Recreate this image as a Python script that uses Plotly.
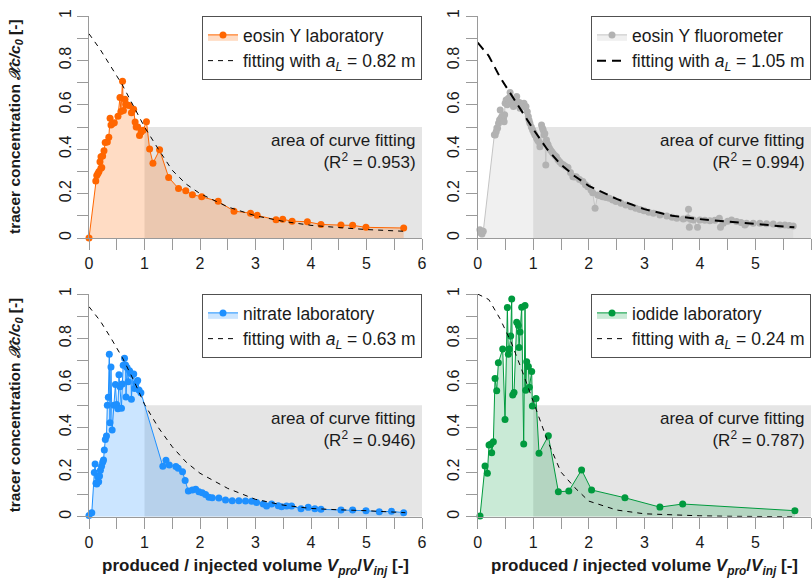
import plotly.graph_objects as go

# ---------------- data ----------------
eosin_lab_x = [0.000, 0.122, 0.140, 0.160, 0.180, 0.198, 0.214, 0.230, 0.216, 0.246, 0.270, 0.292,
               0.330, 0.357, 0.380, 0.396, 0.426, 0.456, 0.522, 0.558, 0.575, 0.604, 0.620, 0.648,
               0.662, 0.685, 0.722, 0.765, 0.804, 0.831, 0.850, 0.878, 0.910, 0.940, 0.975, 1.035,
               1.092, 1.152, 1.272, 1.435, 1.613, 1.744, 1.863, 2.030, 2.327, 2.613, 2.910, 3.030,
               3.370, 3.490, 3.660, 3.935, 4.180, 4.540, 4.750, 4.990, 5.670]
eosin_lab_y = [0.000, 0.257, 0.282, 0.290, 0.300, 0.344, 0.314, 0.318, 0.366, 0.369, 0.393, 0.430,
               0.432, 0.454, 0.539, 0.509, 0.516, 0.519, 0.548, 0.633, 0.570, 0.706, 0.574, 0.625,
               0.603, 0.600, 0.597, 0.564, 0.580, 0.522, 0.500, 0.500, 0.462, 0.478, 0.485, 0.524,
               0.401, 0.337, 0.397, 0.273, 0.223, 0.213, 0.195, 0.186, 0.165, 0.121, 0.112, 0.102,
               0.082, 0.084, 0.076, 0.073, 0.061, 0.058, 0.057, 0.048, 0.045]

eosin_fluo_x = [0.040, 0.060, 0.077, 0.100, 0.300, 0.315, 0.333, 0.345, 0.357, 0.375, 0.393, 0.405,
                0.417, 0.435, 0.464, 0.476, 0.485, 0.494, 0.512, 0.530, 0.554, 0.570, 0.583, 0.600,
                0.613, 0.643, 0.660, 0.673, 0.702, 0.715, 0.732, 0.750, 0.762, 0.792, 0.810, 0.833,
                0.850, 0.869, 0.893, 0.911, 0.925, 0.940, 0.965, 0.988, 1.010, 1.030, 1.060, 1.080,
                1.100, 1.120, 1.135, 1.149, 1.165, 1.179, 1.195, 1.208, 1.226, 1.238, 1.255, 1.268,
                1.290, 1.310, 1.335, 1.357, 1.390, 1.417, 1.445, 1.476, 1.510, 1.548, 1.585, 1.625,
                1.670, 1.714, 1.745, 1.774, 1.833, 1.893, 1.940, 1.982, 2.040, 2.070, 2.113, 2.160,
                2.205, 2.250, 2.310, 2.370, 2.430, 2.490, 2.580, 2.667, 2.760, 2.845, 2.920, 2.994,
                3.080, 3.165, 3.280, 3.405, 3.500, 3.585, 3.700, 3.780, 3.795, 3.810, 3.840, 3.885,
                3.957, 4.000, 4.090, 4.180, 4.270, 4.350, 4.370, 4.420, 4.500, 4.570, 4.660, 4.740,
                4.810, 4.840, 4.960, 5.080, 5.200, 5.320, 5.440, 5.530, 5.610, 5.680]
eosin_fluo_y = [0.037, 0.022, 0.018, 0.030, 0.465, 0.464, 0.479, 0.495, 0.494, 0.517, 0.532, 0.577,
                0.539, 0.547, 0.539, 0.524, 0.555, 0.607, 0.622, 0.600, 0.629, 0.610, 0.655, 0.625,
                0.614, 0.592, 0.605, 0.619, 0.637, 0.610, 0.599, 0.610, 0.584, 0.592, 0.600, 0.607,
                0.590, 0.592, 0.569, 0.547, 0.530, 0.517, 0.500, 0.486, 0.475, 0.464, 0.449, 0.440,
                0.434, 0.411, 0.425, 0.509, 0.495, 0.486, 0.465, 0.471, 0.329, 0.441, 0.425, 0.419,
                0.405, 0.396, 0.388, 0.381, 0.372, 0.366, 0.352, 0.344, 0.335, 0.329, 0.322, 0.318,
                0.295, 0.276, 0.275, 0.276, 0.264, 0.254, 0.240, 0.231, 0.216, 0.204, 0.134, 0.194,
                0.190, 0.186, 0.182, 0.179, 0.171, 0.164, 0.156, 0.149, 0.141, 0.134, 0.128, 0.123,
                0.116, 0.111, 0.104, 0.099, 0.094, 0.089, 0.086, 0.090, 0.130, 0.048, 0.085, 0.081,
                0.048, 0.081, 0.080, 0.078, 0.080, 0.089, 0.048, 0.066, 0.076, 0.081, 0.074, 0.070,
                0.059, 0.066, 0.066, 0.066, 0.064, 0.063, 0.059, 0.058, 0.056, 0.054]

nitrate_x = [0.000, 0.050, 0.096, 0.110, 0.126, 0.140, 0.156, 0.174, 0.190, 0.206, 0.226, 0.246,
             0.262, 0.276, 0.294, 0.315, 0.330, 0.348, 0.366, 0.378, 0.396, 0.417, 0.450, 0.476,
             0.498, 0.520, 0.540, 0.558, 0.585, 0.600, 0.616, 0.640, 0.658, 0.667, 0.685, 0.706,
             0.730, 0.757, 0.764, 0.787, 0.806, 0.820, 0.847, 0.877, 0.900, 0.935, 1.330, 1.387,
             1.446, 1.565, 1.607, 1.685, 1.732, 1.790, 1.863, 1.923, 1.980, 2.040, 2.100, 2.160,
             2.220, 2.340, 2.460, 2.580, 2.700, 2.820, 2.930, 3.020, 3.140, 3.200, 3.290, 3.410,
             3.470, 3.560, 3.650, 3.820, 3.950, 4.070, 4.180, 4.540, 4.750, 4.990, 5.230, 5.450,
             5.670]
nitrate_y = [0.005, 0.018, 0.198, 0.237, 0.150, 0.147, 0.180, 0.157, 0.183, 0.209, 0.227, 0.245,
             0.255, 0.300, 0.347, 0.362, 0.501, 0.536, 0.729, 0.422, 0.672, 0.389, 0.501, 0.594,
             0.504, 0.485, 0.637, 0.584, 0.487, 0.596, 0.680, 0.711, 0.681, 0.537, 0.670, 0.606,
             0.655, 0.643, 0.527, 0.638, 0.641, 0.576, 0.599, 0.612, 0.569, 0.557, 0.227, 0.254,
             0.232, 0.225, 0.217, 0.202, 0.162, 0.115, 0.120, 0.123, 0.112, 0.108, 0.100, 0.087,
             0.085, 0.084, 0.075, 0.072, 0.072, 0.070, 0.069, 0.064, 0.057, 0.048, 0.057, 0.049,
             0.045, 0.048, 0.048, 0.036, 0.042, 0.036, 0.033, 0.030, 0.030, 0.027, 0.022, 0.024,
             0.018]

iodide_x = [0.042, 0.132, 0.174, 0.204, 0.240, 0.252, 0.282, 0.312, 0.342, 0.372, 0.450, 0.492,
            0.534, 0.552, 0.570, 0.594, 0.612, 0.630, 0.654, 0.702, 0.732, 0.744, 0.762, 0.792,
            0.828, 0.852, 0.864, 0.882, 0.912, 0.930, 0.972, 0.984, 1.050, 1.104, 1.272, 1.452,
            1.640, 1.870, 2.050, 2.650, 3.280, 3.690, 5.710]
iodide_y = [0.003, 0.228, 0.195, 0.322, 0.326, 0.287, 0.337, 0.621, 0.566, 0.691, 0.753, 0.437,
            0.939, 0.729, 0.753, 0.811, 0.977, 0.546, 0.558, 0.873, 0.858, 0.760, 0.829, 0.940,
            0.326, 0.948, 0.568, 0.696, 0.674, 0.581, 0.652, 0.497, 0.531, 0.285, 0.363, 0.112,
            0.115, 0.210, 0.120, 0.085, 0.043, 0.057, 0.027]

fit_x = [0.0, 0.2, 0.4, 0.6, 0.8, 1.0, 1.25, 1.5, 1.75, 2.0, 2.5, 3.0, 3.5, 4.0, 4.5, 5.0, 5.7]
fit_eosin_lab = [0.92, 0.85, 0.77, 0.69, 0.595, 0.50, 0.40, 0.305, 0.243, 0.20, 0.14, 0.10,
                 0.075, 0.057, 0.047, 0.038, 0.030]
fit_eosin_fluo = [0.88, 0.82, 0.725, 0.645, 0.565, 0.49, 0.40, 0.33, 0.278, 0.235, 0.176, 0.13,
                  0.10, 0.085, 0.074, 0.064, 0.048]
fit_nitrate = [0.943, 0.88, 0.80, 0.715, 0.615, 0.505, 0.40, 0.314, 0.245, 0.195, 0.127, 0.078,
               0.052, 0.037, 0.031, 0.027, 0.018]
fit_iodide = [1.0, 0.975, 0.89, 0.785, 0.655, 0.52, 0.345, 0.20, 0.13, 0.07, 0.03, 0.013,
              0.007, 0.004, 0.002, 0.001, 0.0]

series_names = ["eosin Y laboratory", "eosin Y fluorometer", "nitrate laboratory", "iodide laboratory"]
aL_values = ["0.82", "1.05", "0.63", "0.24"]
r2_values = ["0.953", "0.994", "0.946", "0.787"]
fit_area_x = [1.0, 6.0]
fit_area_y = [0.0, 0.5]
x_range = [0, 6]
y_range = [0, 1]

# ---------------- styling ----------------
W, H = 812, 581
SANS = "Liberation Sans, Arial, sans-serif"
AXIS_GRAY = "#9a9a9a"
TEXT = "#1a1a1a"

panels = [
    dict(x=eosin_lab_x, y=eosin_lab_y, fit=fit_eosin_lab, color="#ff6600",
         fill="rgba(255,102,0,0.23)", mcolor="#ff6600", lw=1, fitw=1, dash="5px,5px"),
    dict(x=eosin_fluo_x, y=eosin_fluo_y, fit=fit_eosin_fluo, color="#c4c4c4",
         fill="rgba(190,190,190,0.23)", mcolor="#b2b2b2", lw=1, fitw=2, dash="9px,6px"),
    dict(x=nitrate_x, y=nitrate_y, fit=fit_nitrate, color="#1e90ff",
         fill="rgba(30,144,255,0.23)", mcolor="#1e90ff", lw=1, fitw=1, dash="5px,5px"),
    dict(x=iodide_x, y=iodide_y, fit=fit_iodide, color="#009a3e",
         fill="rgba(0,154,62,0.21)", mcolor="#009a3e", lw=1, fitw=1, dash="5px,5px"),
]

# pixel geometry -> paper domains
xl = [89 / W, 422 / W]
xr = [477.7 / W, 811 / W]
yt = [1 - 238 / H, 1 - 16 / H]
yb = [1 - 516.7 / H, 1 - 294 / H]
domains = [(xl, yt), (xr, yt), (xl, yb), (xr, yb)]

fig = go.Figure()
layout = dict(width=W, height=H, margin=dict(l=0, r=0, t=0, b=0),
              paper_bgcolor="white", plot_bgcolor="white", showlegend=True,
              shapes=[], annotations=[])

for i, p in enumerate(panels):
    k = "" if i == 0 else str(i + 1)
    xa, ya = "x" + k, "y" + k
    lg = "legend" + k
    fig.add_trace(go.Scatter(
        x=p["x"], y=p["y"], mode="lines+markers", name=series_names[i],
        line=dict(color=p["color"], width=p["lw"]),
        marker=dict(color=p["mcolor"], size=7),
        fill="tozeroy", fillcolor=p["fill"], cliponaxis=False,
        xaxis=xa, yaxis=ya, legend=lg))
    fig.add_trace(go.Scatter(
        x=fit_x, y=p["fit"], mode="lines",
        name="fitting with <i>a</i><sub><i>L</i></sub> = " + aL_values[i] + " m",
        line=dict(color="black", width=p["fitw"], dash=p["dash"]),
        xaxis=xa, yaxis=ya, legend=lg))

    dx, dy = domains[i]
    axis_common = dict(showgrid=False, zeroline=False, showline=True, linecolor=AXIS_GRAY,
                       linewidth=1, ticks="outside", ticklen=11, tickcolor=AXIS_GRAY,
                       tickwidth=1, tickfont=dict(family=SANS, size=16, color=TEXT),
                       automargin=False, fixedrange=True)
    layout["xaxis" + k] = dict(domain=dx, anchor=ya, range=x_range, tick0=0, dtick=1,
                               minor=dict(dtick=0.5, tick0=0, ticks="outside", ticklen=11,
                                          tickcolor=AXIS_GRAY, showgrid=False),
                               **axis_common)
    layout["yaxis" + k] = dict(domain=dy, anchor=xa, range=y_range, tick0=0, dtick=0.2,
                               tickangle=-90,
                               minor=dict(dtick=0.1, tick0=0, ticks="outside", ticklen=11,
                                          tickcolor=AXIS_GRAY, showgrid=False),
                               **axis_common)
    layout["shapes"].append(dict(type="rect", xref=xa, yref=ya,
                                 x0=fit_area_x[0], x1=fit_area_x[1],
                                 y0=fit_area_y[0], y1=fit_area_y[1],
                                 fillcolor="#e5e5e5", line=dict(width=0), layer="below"))
    layout["annotations"].append(dict(
        xref=xa, yref=ya, x=5.93, y=0.39, xanchor="right", yanchor="middle", align="right",
        showarrow=False, text="area of curve fitting<br>(R<sup>2</sup> = " + r2_values[i] + ")",
        font=dict(family=SANS, size=17, color=TEXT)))
    layout[lg] = dict(x=dx[1], y=dy[1], xanchor="right", yanchor="top", bgcolor="white",
                      bordercolor="#505050", borderwidth=1, itemwidth=30,
                      font=dict(family=SANS, size=17.5, color=TEXT), traceorder="normal")

ytitle = "<b>tracer concentration <i>𝒳c/c<sub>0</sub></i> [-]</b>"
xtitle = "<b>produced / injected volume <i>V<sub>pro</sub></i>/<i>V<sub>inj</sub></i> [-]</b>"
for dy in (yt, yb):
    layout["annotations"].append(dict(
        xref="paper", yref="paper", x=15 / W, y=(dy[0] + dy[1]) / 2, textangle=-90,
        xanchor="center", yanchor="middle", showarrow=False, text=ytitle,
        font=dict(family=SANS, size=15.5, color=TEXT)))
for dx in (xl, xr):
    layout["annotations"].append(dict(
        xref="paper", yref="paper", x=(dx[0] + dx[1]) / 2, y=1 - 567 / H,
        xanchor="center", yanchor="middle", showarrow=False, text=xtitle,
        font=dict(family=SANS, size=17, color=TEXT)))

fig.update_layout(**layout)
fig.write_html("out.html", config={"displayModeBar": False},
               post_script="document.body.style.margin='0px';document.body.style.padding='0px';")
